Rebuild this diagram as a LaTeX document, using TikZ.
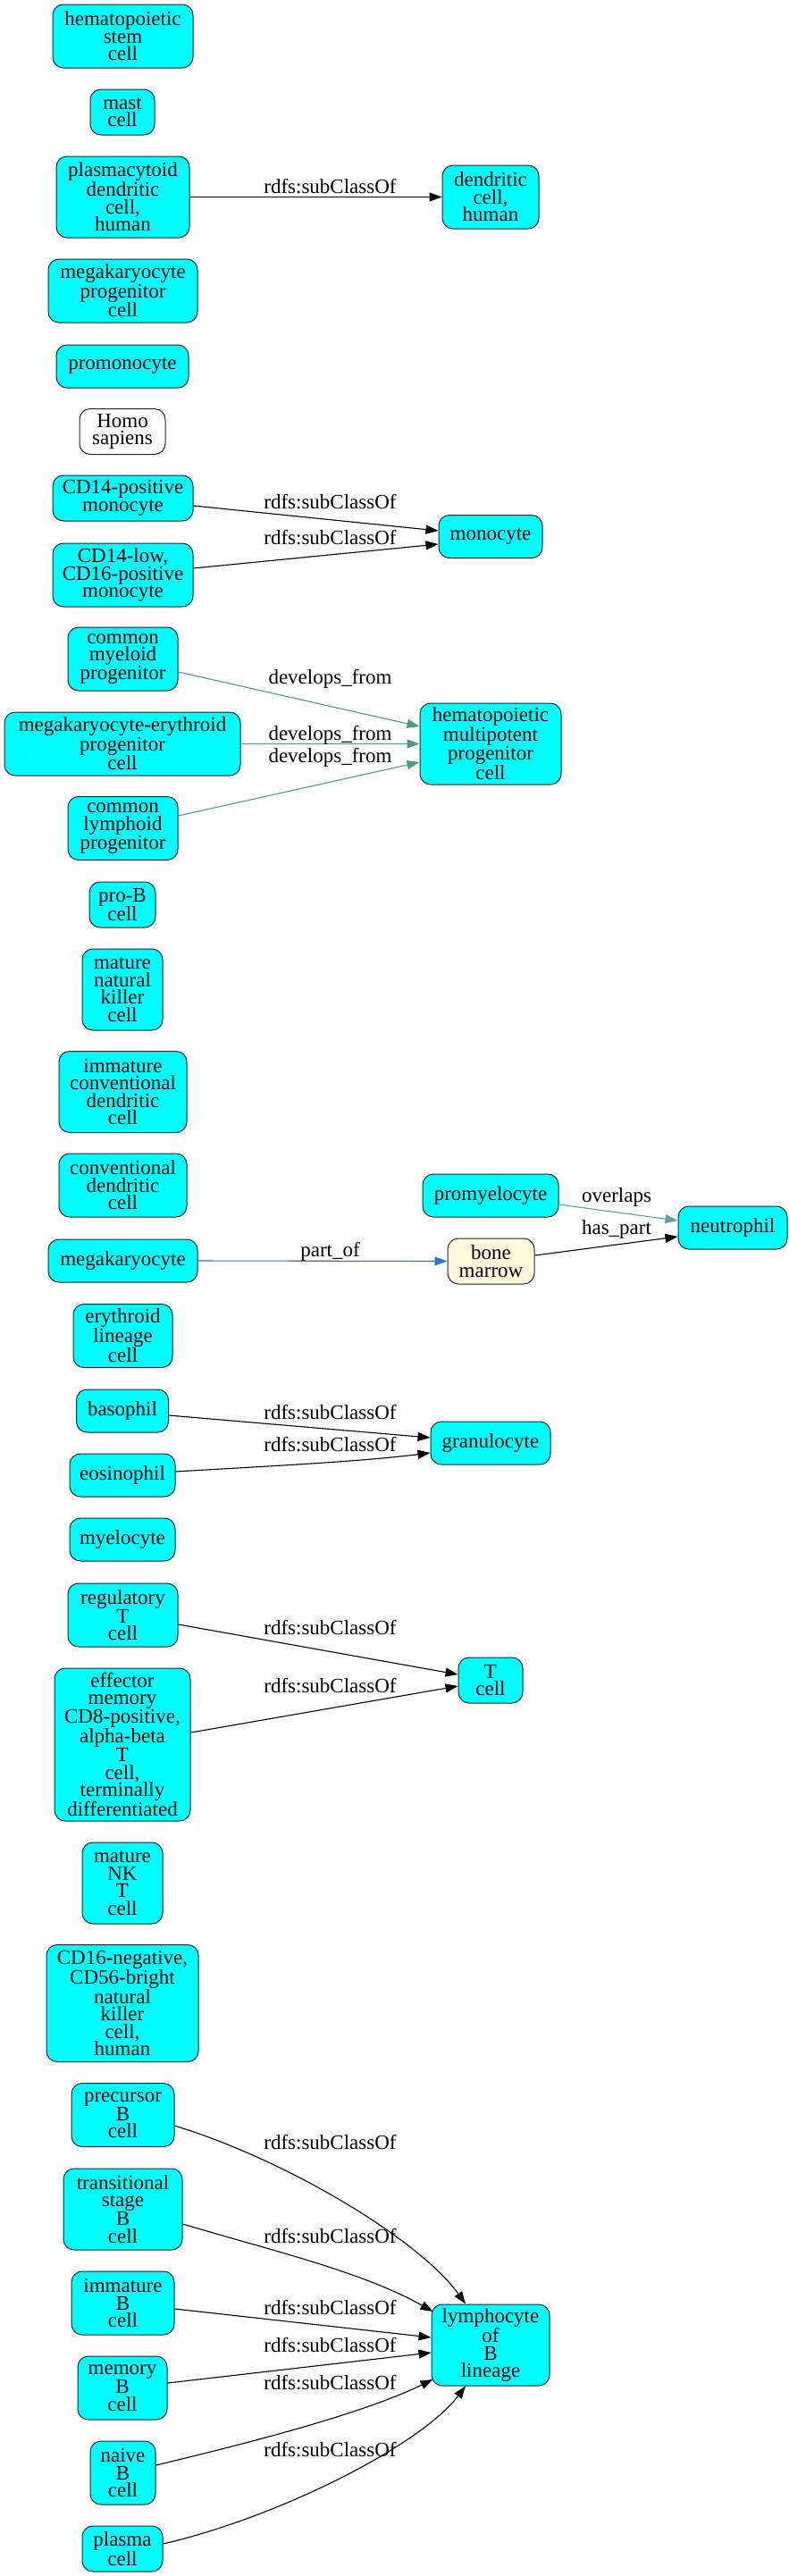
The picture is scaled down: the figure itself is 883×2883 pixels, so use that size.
\documentclass[tikz,border=0pt]{standalone}
\usepackage{fontspec}
\setmainfont{Liberation Serif}
\usetikzlibrary{arrows.meta}
\definecolor{cyanfill}{HTML}{00FFFF}
\definecolor{silk}{HTML}{FFF8DC}
\definecolor{devgreen}{HTML}{4E9A7A}
\definecolor{partblue}{HTML}{2277D0}
\definecolor{ovlcol}{HTML}{5F9EA0}
\newcommand{\dfont}{\fontsize{23}{19.5}\selectfont}
\tikzset{
  cell/.style={draw=black!85, line width=1pt, rounded corners=12pt, fill=cyanfill,
    align=center, inner sep=0pt, font=\dfont},
  plain/.style={cell, fill=white},
  tissue/.style={cell, fill=silk},
  lbl/.style={font=\dfont, inner sep=0pt, anchor=base},
  rel/.style={line width=1.1pt, -{Triangle[length=14pt,width=10pt]}},
  dev/.style={rel, draw=devgreen, -{Triangle[length=14pt,width=10pt,fill=devgreen]}},
  partof/.style={rel, draw=partblue, -{Triangle[length=14pt,width=10pt,fill=partblue]}},
  ovl/.style={rel, draw=ovlcol, -{Triangle[length=14pt,width=10pt,fill=ovlcol]}},
}
\begin{document}
\begin{tikzpicture}[x=1pt,y=-1pt]
\useasboundingbox (0,0) rectangle (883,2883);
% nodes
\node[cell, minimum width=157pt, minimum height=71pt] (hsc) at (137.5,40.5) {hematopoietic\\stem\\cell};
\node[cell, minimum width=72pt, minimum height=51pt] (mast) at (137,125.5) {mast\\cell};
\node[cell, minimum width=149pt, minimum height=91pt] (pdc) at (137.5,220.5) {plasmacytoid\\dendritic\\cell,\\human};
\node[cell, minimum width=108pt, minimum height=71pt] (dch) at (549,220.5) {dendritic\\cell,\\human};
\node[cell, minimum width=167pt, minimum height=71pt] (mkp) at (137.5,325.5) {megakaryocyte\\progenitor\\cell};
\node[cell, minimum width=148pt, minimum height=48pt] (promono) at (137,410) {promonocyte};
\node[plain, minimum width=96pt, minimum height=51pt] (homo) at (137,483) {Homo\\sapiens};
\node[cell, minimum width=157pt, minimum height=51pt] (cdpos) at (137.5,557.5) {CD14-positive\\monocyte};
\node[cell, minimum width=157pt, minimum height=71pt] (cdlow) at (137.5,643.5) {CD14-low,\\CD16-positive\\monocyte};
\node[cell, minimum width=116pt, minimum height=48pt] (mono) at (549,600.5) {monocyte};
\node[cell, minimum width=123pt, minimum height=71pt] (cmp) at (137.5,737.5) {common\\myeloid\\progenitor};
\node[cell, minimum width=264pt, minimum height=71pt] (mep) at (137,832.5) {megakaryocyte-erythroid\\progenitor\\cell};
\node[cell, minimum width=158pt, minimum height=91pt] (hmpp) at (549,832.5) {hematopoietic\\multipotent\\progenitor\\cell};
\node[cell, minimum width=123pt, minimum height=71pt] (clp) at (137.5,927) {common\\lymphoid\\progenitor};
\node[cell, minimum width=74pt, minimum height=51pt] (prob) at (137,1012.5) {pro-B\\cell};
\node[cell, minimum width=90pt, minimum height=91pt] (mnk) at (137,1107.5) {mature\\natural\\killer\\cell};
\node[cell, minimum width=143pt, minimum height=91pt] (icdc) at (137.5,1222) {immature\\conventional\\dendritic\\cell};
\node[cell, minimum width=143pt, minimum height=71pt] (cdc) at (137.5,1326.5) {conventional\\dendritic\\cell};
\node[cell, minimum width=152pt, minimum height=48pt] (promy) at (549,1338) {promyelocyte};
\node[cell, minimum width=122pt, minimum height=48pt] (neut) at (820,1374) {neutrophil};
\node[cell, minimum width=167pt, minimum height=48pt] (mk) at (137.5,1411) {megakaryocyte};
\node[tissue, minimum width=97pt, minimum height=51pt] (bm) at (549.5,1411.5) {bone\\marrow};
\node[cell, minimum width=111pt, minimum height=71pt] (ery) at (137.5,1495) {erythroid\\lineage\\cell};
\node[cell, minimum width=103pt, minimum height=48pt] (baso) at (137,1579) {basophil};
\node[cell, minimum width=118pt, minimum height=48pt] (eos) at (137,1651) {eosinophil};
\node[cell, minimum width=134pt, minimum height=48pt] (gran) at (549,1615) {granulocyte};
\node[cell, minimum width=118pt, minimum height=48pt] (myelo) at (137,1723) {myelocyte};
\node[cell, minimum width=123pt, minimum height=71pt] (treg) at (137.5,1807.5) {regulatory\\T\\cell};
\node[cell, minimum width=72pt, minimum height=51pt] (tcell) at (549,1880.5) {T\\cell};
\node[cell, minimum width=152pt, minimum height=171pt] (eff) at (137,1952.5) {effector\\memory\\CD8-positive,\\alpha-beta\\T\\cell,\\terminally\\differentiated};
\node[cell, minimum width=90pt, minimum height=91pt] (mnkt) at (137,2107.5) {mature\\NK\\T\\cell};
\node[cell, minimum width=170pt, minimum height=131pt] (cdneg) at (137,2242) {CD16-negative,\\CD56-bright\\natural\\killer\\cell,\\human};
\node[cell, minimum width=115pt, minimum height=71pt] (preb) at (137.5,2367) {precursor\\B\\cell};
\node[cell, minimum width=133pt, minimum height=91pt] (transb) at (137.5,2472.5) {transitional\\stage\\B\\cell};
\node[cell, minimum width=115pt, minimum height=71pt] (immb) at (137.5,2577.5) {immature\\B\\cell};
\node[cell, minimum width=100pt, minimum height=71pt] (memb) at (137,2672.5) {memory\\B\\cell};
\node[cell, minimum width=73pt, minimum height=71pt] (naiveb) at (137.5,2767.5) {naive\\B\\cell};
\node[cell, minimum width=90pt, minimum height=51pt] (plasma) at (137,2852.5) {plasma\\cell};
\node[cell, minimum width=132pt, minimum height=91pt] (lymphb) at (549,2624.5) {lymphocyte\\of\\B\\lineage};
% edges
\draw[rel] (pdc.east) -- (dch.west);
\node[lbl] (l1) at (369.5,216) {rdfs:subClassOf};
\draw[rel] ([yshift=-8.5pt]cdpos.east) -- ([yshift=6.5pt]mono.west);
\node[lbl] (l2) at (369.5,569) {rdfs:subClassOf};
\draw[rel] ([yshift=7.5pt]cdlow.east) -- ([yshift=-8.5pt]mono.west);
\node[lbl] (l3) at (369.5,609) {rdfs:subClassOf};
\draw[dev] ([yshift=-14.5pt]cmp.east) -- ([yshift=19.5pt]hmpp.west);
\node[lbl] (l4) at (369.5,765.7) {develops\_from};
\draw[dev] (mep.east) -- (hmpp.west);
\node[lbl] (l5) at (369.5,828.3) {develops\_from};
\draw[dev] ([yshift=14pt]clp.east) -- ([yshift=-20.5pt]hmpp.west);
\node[lbl] (l6) at (369.5,853.3) {develops\_from};
\draw[partof] (mk.east) -- (bm.west);
\node[lbl] (l7) at (369.5,1406) {part\_of};
\draw[ovl] ([yshift=-10pt]promy.east) -- ([yshift=8pt]neut.west);
\node[lbl] (l8) at (690,1345.7) {overlaps};
\draw[rel] ([yshift=6.5pt]bm.east) -- ([yshift=-10pt]neut.west);
\node[lbl] (l9) at (690,1381.7) {has\_part};
\draw[rel] ([yshift=-5pt]baso.east) -- ([yshift=6pt]gran.west);
\node[lbl] (l10) at (369.5,1588) {rdfs:subClassOf};
\draw[rel] ([yshift=4pt]eos.east) .. controls +(100pt,6pt) and +(-80pt,-10pt) .. ([yshift=-11pt]gran.west);
\node[lbl] (l11) at (369.5,1624) {rdfs:subClassOf};
\draw[rel] ([yshift=-10.5pt]treg.east) -- ([yshift=6.5pt]tcell.west);
\node[lbl] (l12) at (369.5,1829) {rdfs:subClassOf};
\draw[rel] ([yshift=13.5pt]eff.east) -- ([yshift=-6.5pt]tcell.west);
\node[lbl] (l13) at (369.5,1894) {rdfs:subClassOf};
\draw[rel] ([yshift=-12pt]preb.east) .. controls +(130pt,-40pt) and +(-50pt,70pt) .. ([xshift=-28pt]lymphb.north);
\node[lbl] (l14) at (369.5,2405) {rdfs:subClassOf};
\draw[rel] ([yshift=-16.5pt]transb.east) .. controls +(100pt,-30pt) and +(-80pt,45pt) .. ([yshift=37.5pt,xshift=2pt]lymphb.west);
\node[lbl] (l15) at (369.5,2510) {rdfs:subClassOf};
\draw[rel] ([yshift=-6.5pt]immb.east) -- ([yshift=8.5pt]lymphb.west);
\node[lbl] (l16) at (369.5,2590) {rdfs:subClassOf};
\draw[rel] ([yshift=5.5pt]memb.east) -- ([yshift=-8.5pt]lymphb.west);
\node[lbl] (l17) at (369.5,2632) {rdfs:subClassOf};
\draw[rel] ([yshift=8.5pt]naiveb.east) .. controls +(100pt,24pt) and +(-80pt,-39pt) .. ([yshift=-38.5pt,xshift=2pt]lymphb.west);
\node[lbl] (l18) at (369.5,2674) {rdfs:subClassOf};
\draw[rel] ([yshift=5.5pt]plasma.east) .. controls +(130pt,30pt) and +(-50pt,-66pt) .. ([xshift=-28pt]lymphb.south);
\node[lbl] (l19) at (369.5,2749) {rdfs:subClassOf};
\end{tikzpicture}
\end{document}
